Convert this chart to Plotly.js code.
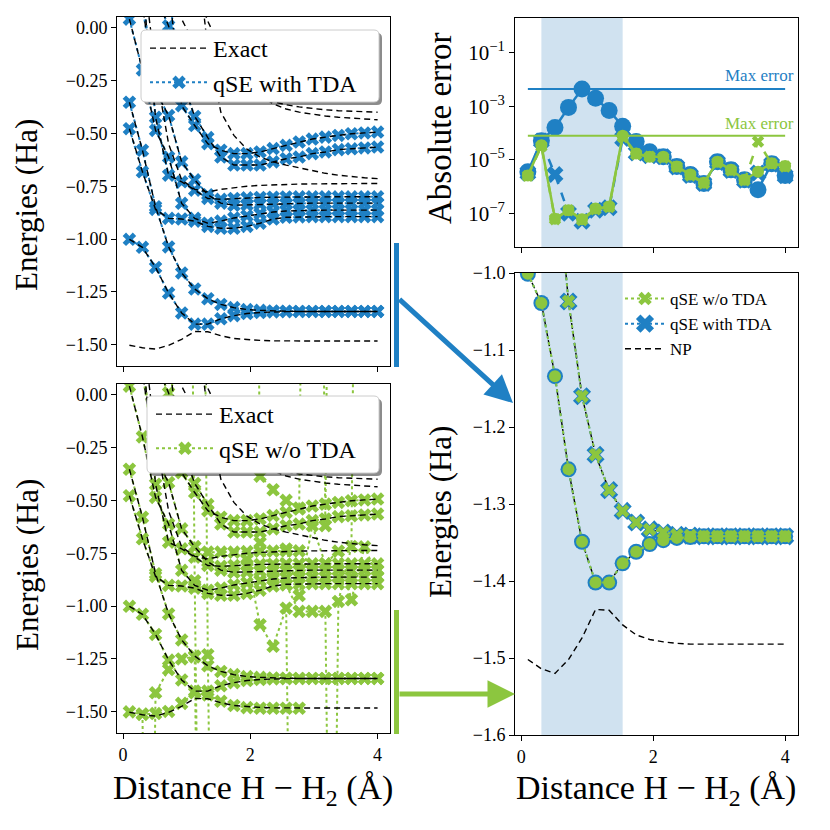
<!DOCTYPE html>
<html><head><meta charset="utf-8">
<script src="https://cdn.plot.ly/plotly-3.0.1.min.js"></script>
<style>html,body{margin:0;padding:0;background:#fff}#chart{width:830px;height:830px}</style>
</head><body><div id="chart"></div>
<script>
// ---------------- data ----------------
const distance = [0.1, 0.305, 0.511, 0.716, 0.921, 1.126, 1.332, 1.537, 1.742, 1.947, 2.153, 2.358, 2.563, 2.768, 2.974, 3.179, 3.384, 3.589, 3.795, 4.0];

// exact energies (Ha)
const exactNP = [-1.502,-1.514,-1.520,-1.502,-1.474,-1.437,-1.438,-1.457,-1.470,-1.476,-1.479,-1.481,-1.482,-1.482,-1.482,-1.482,-1.482,-1.482,-1.482,-1.482];
const exactS1 = [-1.001,-1.039,-1.134,-1.255,-1.349,-1.402,-1.402,-1.377,-1.362,-1.352,-1.347,-1.344,-1.343,-1.342,-1.342,-1.342,-1.342,-1.342,-1.342,-1.342];
const exactS2 = [-0.353,-0.580,-0.847,-1.037,-1.160,-1.236,-1.282,-1.309,-1.324,-1.333,-1.337,-1.340,-1.341,-1.342,-1.342,-1.342,-1.342,-1.342,-1.342,-1.342];
const exactS3 = [-0.478,-0.682,-0.860,-0.902,-0.905,-0.915,-0.940,-0.949,-0.949,-0.940,-0.925,-0.905,-0.897,-0.895,-0.894,-0.894,-0.894,-0.894,-0.894,-0.894];
const exactS4 = [0.040,-0.200,-0.486,-0.612,-0.831,-0.902,-0.925,-0.915,-0.900,-0.890,-0.880,-0.872,-0.867,-0.865,-0.864,-0.863,-0.863,-0.863,-0.863,-0.863];
const exactS5 = [0.400,0.100,-0.300,-0.416,-0.635,-0.720,-0.790,-0.830,-0.840,-0.838,-0.835,-0.833,-0.832,-0.831,-0.830,-0.830,-0.830,-0.830,-0.830,-0.830];
const exactS6 = [0.600,0.200,-0.424,-0.698,-0.729,-0.769,-0.808,-0.812,-0.808,-0.805,-0.803,-0.802,-0.801,-0.800,-0.800,-0.800,-0.800,-0.800,-0.800,-0.800];
const exactS7 = [1.000,0.500,0.150,0.008,-0.250,-0.420,-0.520,-0.612,-0.650,-0.650,-0.650,-0.635,-0.620,-0.612,-0.596,-0.588,-0.577,-0.573,-0.569,-0.565];
const exactS8 = [1.400,0.900,0.500,0.200,-0.369,-0.463,-0.549,-0.580,-0.596,-0.596,-0.588,-0.572,-0.557,-0.541,-0.527,-0.518,-0.510,-0.502,-0.498,-0.494];
const exactS9 = [0.800,0.300,-0.200,-0.550,-0.720,-0.765,-0.777,-0.765,-0.757,-0.750,-0.746,-0.743,-0.741,-0.740,-0.739,-0.738,-0.738,-0.737,-0.737,-0.737];
const exactS10 = [3.000,2.500,2.000,1.500,1.000,0.450,-0.100,-0.400,-0.510,-0.575,-0.612,-0.635,-0.650,-0.663,-0.677,-0.689,-0.698,-0.705,-0.710,-0.714];
const exactS11 = [2.000,1.200,0.700,0.350,0.040,-0.080,-0.160,-0.220,-0.270,-0.300,-0.330,-0.350,-0.365,-0.375,-0.383,-0.389,-0.393,-0.396,-0.398,-0.400];
const exactS12 = [2.500,1.800,1.200,0.800,0.450,0.200,0.030,-0.100,-0.200,-0.270,-0.320,-0.360,-0.385,-0.400,-0.410,-0.418,-0.424,-0.429,-0.433,-0.436];

// qSE with TDA energies (follow the exact curves for the captured states)
const tdaS1 = exactS1, tdaS2 = exactS2, tdaS3 = exactS3, tdaS4 = exactS4;
const tdaS5 = exactS5, tdaS6 = exactS6, tdaS7 = exactS7, tdaS8 = exactS8;

// qSE without TDA: captured states + spurious states
const noTdaNP   = [-1.500,-1.512,-1.508,-1.498,-1.460,-1.410,-1.420,-1.450,-1.470,-1.480,-1.483,-1.483,-1.483,-1.483,null,null,null,null,null,null];
const noTdaFlat = [null,null,null,null,null,-0.720,-0.745,-0.745,-0.745,-0.742,-0.740,-0.740,-0.739,-0.739,null,null,null,null,null,null];
const spurA = [null,-6,-1.410,-1.300,-1.250,-1.240,-6,null,null,null,null,null,null,null,null,null,null,null,null,null];
const spurB = [null,null,null,null,null,6,-1.230,-6,null,null,null,null,null,null,null,null,null,null,null,null];
const spurC = [null,null,null,null,6,-0.880,-6,null,null,null,null,null,null,null,null,null,null,null,null,null];
const spurD = [null,-1.510,-6,null,null,null,null,null,null,null,null,null,null,null,null,null,null,null,null,null];
const spurE = [null,null,null,null,null,null,null,null,null,6,-0.386,-0.450,-0.500,-0.536,6,null,null,null,null,null];
const spurF = [null,null,null,null,null,null,null,null,null,-0.780,-1.088,-1.190,-1.010,-6,null,null,null,null,null,null];
const spurG = [null,null,null,null,null,null,null,null,null,null,null,null,-0.900,-1.025,-1.025,-1.025,-6,null,null,null];
const spurH = [null,null,null,null,null,null,null,null,null,null,null,null,null,null,null,-6,-0.978,-0.718,6,null];
const spurJ = [null,null,null,null,null,null,null,null,null,null,-0.700,-0.860,-0.730,-0.950,-0.620,-0.800,-0.740,-0.970,-0.720,-0.860];
const spurK = [null,null,null,null,null,null,null,null,null,null,null,null,null,null,6,-0.620,6,null,null,null];

// absolute errors (Ha)
const errTdaA   = [3.6e-6,5.2e-5,1.6e-4,9.1e-4,4.4e-3,2.0e-3,6.9e-4,1.8e-4,4.8e-5,2.0e-5,1.3e-5,5.6e-6,2.8e-6,1.3e-6,8.5e-6,4.2e-6,1.8e-6,7.6e-7,7.1e-6,2.6e-6];
const errTdaB   = [3.2e-6,5.0e-5,2.8e-6,1.0e-7,5.0e-8,1.3e-7,1.6e-7,6.3e-5,1.8e-5,1.4e-5,1.3e-5,5.4e-6,2.6e-6,1.3e-6,7.9e-6,4.0e-6,1.7e-6,3.2e-6,6.8e-6,2.5e-6];
const errNoTdaA = [2.6e-6,3.5e-5,6.3e-8,1.3e-7,6.0e-8,1.5e-7,1.8e-7,7.9e-5,1.7e-5,1.3e-5,1.3e-5,5.6e-6,2.8e-6,1.4e-6,8.5e-6,4.2e-6,1.8e-6,3.6e-6,7.4e-6,5.9e-6];
const errNoTdaB = [2.5e-6,3.2e-5,6.0e-8,1.3e-7,5.6e-8,1.4e-7,1.7e-7,7.1e-5,1.6e-5,1.3e-5,1.2e-5,5.4e-6,2.6e-6,1.3e-6,7.9e-6,4.0e-6,1.7e-6,4.8e-5,7.1e-6,5.6e-6];

const shadedRange = [0.305, 1.537];
const energyTicks = [0, -0.25, -0.5, -0.75, -1.0, -1.25, -1.5];
const zoomTicks = [-1.0, -1.1, -1.2, -1.3, -1.4, -1.5, -1.6];
const errTicks = [1e-1, 1e-3, 1e-5, 1e-7];
const errTickText = ['10<sup>−1</sup>', '10<sup>−3</sup>', '10<sup>−5</sup>', '10<sup>−7</sup>'];
const distTicks = [0, 2, 4];

// ---------------- style ----------------
const BLUE = '#1f80c4', GREEN = '#8cc63f', FONT = 'Liberation Serif';
const W = 830;
const px = p => p / W, py = p => 1 - p / W;

function xax(l, r, showLabels) {
  return {domain: [px(l), px(r)], range: [-0.095, 4.195], tickvals: distTicks, ticks: 'outside', ticklen: 5,
    tickcolor: '#000', showticklabels: showLabels, showline: true, linecolor: '#000', linewidth: 1, mirror: true,
    showgrid: false, zeroline: false, tickfont: {family: FONT, size: 18, color: '#000'}, fixedrange: true};
}
function yax(t, b, extra) {
  return Object.assign({domain: [py(b), py(t)], ticks: 'outside', ticklen: 5, tickcolor: '#000', showline: true,
    linecolor: '#000', linewidth: 1, mirror: true, showgrid: false, zeroline: false,
    tickfont: {family: FONT, size: 18, color: '#000'}, fixedrange: true}, extra);
}

const traces = [];
const exactStates = [exactS1, exactS2, exactS3, exactS4, exactS5, exactS6, exactS7, exactS8, exactS9, exactS10, exactS11, exactS12, exactNP];
const tdaStates = [tdaS1, tdaS2, tdaS3, tdaS4, tdaS5, tdaS6, tdaS7, tdaS8];
const noTdaStates = [exactS1, exactS2, exactS3, exactS4, exactS5, exactS6, exactS7, exactS8, noTdaNP, noTdaFlat,
  spurA, spurB, spurC, spurD, spurE, spurF, spurG, spurH, spurJ, spurK];

function qse(y, xa, ya, color, name, legend, show) {
  return {x: distance, y: y, xaxis: xa, yaxis: ya, mode: 'lines+markers', name: name, legend: legend,
    showlegend: show, legendrank: 2, legendgroup: 'q',
    line: {color: color, dash: 'dot', width: 2}, marker: {symbol: 'x', size: 12, color: color, line: {width: 0}},
    hoverinfo: 'skip'};
}
function exact(y, xa, ya, legend, show, name) {
  return {x: distance, y: y, xaxis: xa, yaxis: ya, mode: 'lines', name: name || 'Exact', legend: legend,
    showlegend: show, legendrank: 1, legendgroup: 'e',
    line: {color: '#000', dash: '6px,4px', width: 1.4}, hoverinfo: 'skip'};
}

// top-left: with TDA
tdaStates.forEach((s, i) => traces.push(qse(s, 'x', 'y', BLUE, 'qSE with TDA', 'legend', i === 0)));
exactStates.forEach((s, i) => traces.push(exact(s, 'x', 'y', 'legend', i === 0)));
// bottom-left: without TDA
noTdaStates.forEach((s, i) => traces.push(qse(s, 'x2', 'y2', GREEN, 'qSE w/o TDA', 'legend2', i === 0)));
exactStates.forEach((s, i) => traces.push(exact(s, 'x2', 'y2', 'legend2', i === 0)));

// bottom-right: zoom on the two lowest states
traces.push(exact(exactS1, 'x4', 'y4', 'legend3', false));
traces.push(exact(exactS2, 'x4', 'y4', 'legend3', false));
traces.push(Object.assign(exact(exactNP, 'x4', 'y4', 'legend3', true, 'NP'), {legendrank: 3, legendgroup: 'np'}));
function zoomTrace(y, color, sym, size, name, show, rank) {
  return {x: distance, y: y, xaxis: 'x4', yaxis: 'y4', mode: 'lines+markers', name: name, legend: 'legend3',
    showlegend: show, legendrank: rank, legendgroup: name,
    line: {color: color, dash: 'dot', width: 2}, marker: {symbol: sym, size: size, color: color, line: {width: 0}},
    hoverinfo: 'skip'};
}
traces.push(zoomTrace(tdaS1, BLUE, 'circle', 16, 'qSE with TDA', false, 2));
traces.push(zoomTrace(tdaS2, BLUE, 'x', 16, 'qSE with TDA', true, 2));
traces.push(zoomTrace(exactS1, GREEN, 'circle', 12, 'qSE w/o TDA', false, 1));
traces.push(zoomTrace(exactS2, GREEN, 'x', 12, 'qSE w/o TDA', true, 1));

// top-right: errors
function errTrace(y, color, sym, size, dash) {
  return {x: distance, y: y, xaxis: 'x3', yaxis: 'y3', mode: 'lines+markers', showlegend: false,
    line: {color: color, dash: dash, width: 2.5}, marker: {symbol: sym, size: size, color: color, line: {width: 0}},
    hoverinfo: 'skip'};
}
traces.push(errTrace(errTdaA, BLUE, 'circle', 17, 'solid'));
traces.push(errTrace(errTdaB, BLUE, 'x', 15, 'dash'));
traces.push(errTrace(errNoTdaA, GREEN, 'circle', 12, 'solid'));
traces.push(errTrace(errNoTdaB, GREEN, 'x', 11, 'dash'));
const maxTda = Math.max(...errTdaA, ...errTdaB);
const maxNoTda = Math.max(...errNoTdaA, ...errNoTdaB);
const xEnds = [distance[0], distance[distance.length - 1]];
traces.push({x: xEnds, y: [maxTda, maxTda], xaxis: 'x3', yaxis: 'y3', mode: 'lines', showlegend: false,
  line: {color: BLUE, width: 2}, hoverinfo: 'skip'});
traces.push({x: xEnds, y: [maxNoTda, maxNoTda], xaxis: 'x3', yaxis: 'y3', mode: 'lines', showlegend: false,
  line: {color: GREEN, width: 2}, hoverinfo: 'skip'});

// ---------------- decorations ----------------
function roundRect(x0, y0, x1, y1, r) {
  const P = (a, b) => px(a) + ',' + py(b);
  return 'M' + P(x0 + r, y0) + ' L' + P(x1 - r, y0) + ' Q' + P(x1, y0) + ' ' + P(x1, y0 + r) +
    ' L' + P(x1, y1 - r) + ' Q' + P(x1, y1) + ' ' + P(x1 - r, y1) + ' L' + P(x0 + r, y1) +
    ' Q' + P(x0, y1) + ' ' + P(x0, y1 - r) + ' L' + P(x0, y0 + r) + ' Q' + P(x0, y0) + ' ' + P(x0 + r, y0) + ' Z';
}
function legendBox(x0, y0, x1, y1) {
  return [
    {type: 'path', xref: 'paper', yref: 'paper', path: roundRect(x0 + 3, y0 + 3, x1 + 3, y1 + 3, 5),
      fillcolor: 'rgba(0,0,0,0.45)', line: {width: 0}, layer: 'above'},
    {type: 'path', xref: 'paper', yref: 'paper', path: roundRect(x0, y0, x1, y1, 5),
      fillcolor: '#fff', line: {color: '#cccccc', width: 1}, layer: 'above'}
  ];
}
const shapes = [
  {type: 'rect', xref: 'x3', yref: 'y3 domain', x0: shadedRange[0], x1: shadedRange[1], y0: 0, y1: 1,
    fillcolor: '#d0e2f0', line: {width: 0}, layer: 'below'},
  {type: 'rect', xref: 'x4', yref: 'y4 domain', x0: shadedRange[0], x1: shadedRange[1], y0: 0, y1: 1,
    fillcolor: '#d0e2f0', line: {width: 0}, layer: 'below'},
  ...legendBox(141, 30, 379, 102),
  ...legendBox(147, 396, 379, 473),
  {type: 'line', xref: 'paper', yref: 'paper', x0: px(396.5), x1: px(396.5), y0: py(243), y1: py(367),
    line: {color: BLUE, width: 5}},
  {type: 'line', xref: 'paper', yref: 'paper', x0: px(396.5), x1: px(396.5), y0: py(610), y1: py(734),
    line: {color: GREEN, width: 5}}
];

function label(x, y, text, size, angle, color, xanchor) {
  return {xref: 'paper', yref: 'paper', x: px(x), y: py(y), text: text, textangle: angle || 0, showarrow: false,
    xanchor: xanchor || 'center', yanchor: 'middle', font: {family: FONT, size: size, color: color || '#000'}};
}
const annotations = [
  label(27, 205, 'Energies (Ha)', 31, -90),
  label(27, 565, 'Energies (Ha)', 31, -90),
  label(440, 512, 'Energies (Ha)', 31, -90),
  label(440, 128, 'Absolute error', 33, -90),
  label(253, 790, 'Distance H − H<sub>2</sub> (Å)', 34),
  label(656, 790, 'Distance H − H<sub>2</sub> (Å)', 34),
  label(796, 76, 'Max error', 17, 0, BLUE, 'right'),
  label(796, 123, 'Max error', 17, 0, GREEN, 'right'),
  {xref: 'paper', yref: 'paper', x: px(513), y: py(403), ax: 398 - 513, ay: 298 - 403, axref: 'pixel', ayref: 'pixel',
    text: '', showarrow: true, arrowhead: 2, arrowsize: 1.1, arrowwidth: 5, arrowcolor: BLUE},
  {xref: 'paper', yref: 'paper', x: px(515), y: py(694), ax: 398 - 515, ay: 0, axref: 'pixel', ayref: 'pixel',
    text: '', showarrow: true, arrowhead: 2, arrowsize: 1.1, arrowwidth: 5, arrowcolor: GREEN}
];

const legFont = {family: FONT, size: 24, color: '#000'};
const layout = {
  width: 830, height: 830, margin: {l: 0, r: 0, t: 0, b: 0}, paper_bgcolor: '#fff', plot_bgcolor: '#fff',
  font: {family: FONT, color: '#000'},
  xaxis: Object.assign(xax(117, 390, false), {anchor: 'y'}),
  yaxis: yax(17, 366, {anchor: 'x', range: [-1.6, 0.05], tickvals: energyTicks, tickformat: '.2f'}),
  xaxis2: Object.assign(xax(117, 390, true), {anchor: 'y2'}),
  yaxis2: yax(384, 733, {anchor: 'x2', range: [-1.6, 0.05], tickvals: energyTicks, tickformat: '.2f'}),
  xaxis3: Object.assign(xax(515, 798, false), {anchor: 'y3'}),
  yaxis3: yax(18, 247, {anchor: 'x3', type: 'log', range: [-8.26, 0.3], tickvals: errTicks, ticktext: errTickText,
    tickfont: {family: FONT, size: 21, color: '#000'}}),
  xaxis4: Object.assign(xax(515, 798, true), {anchor: 'y4'}),
  yaxis4: yax(273, 735, {anchor: 'x4', range: [-1.6, -1.0], tickvals: zoomTicks, tickformat: '.1f'}),
  legend: {x: px(145), y: py(26), xanchor: 'left', yanchor: 'top', bgcolor: 'rgba(0,0,0,0)', borderwidth: 0,
    font: legFont, itemwidth: 58, tracegroupgap: 0},
  legend2: {x: px(151), y: py(392), xanchor: 'left', yanchor: 'top', bgcolor: 'rgba(0,0,0,0)', borderwidth: 0,
    font: legFont, itemwidth: 58, tracegroupgap: 0},
  legend3: {x: px(620), y: py(281), xanchor: 'left', yanchor: 'top', bgcolor: 'rgba(0,0,0,0)', borderwidth: 0,
    font: {family: FONT, size: 17, color: '#000'}, itemwidth: 40, tracegroupgap: 0},
  shapes: shapes,
  annotations: annotations
};

Plotly.newPlot('chart', traces, layout, {staticPlot: true, displayModeBar: false});
</script></body></html>
